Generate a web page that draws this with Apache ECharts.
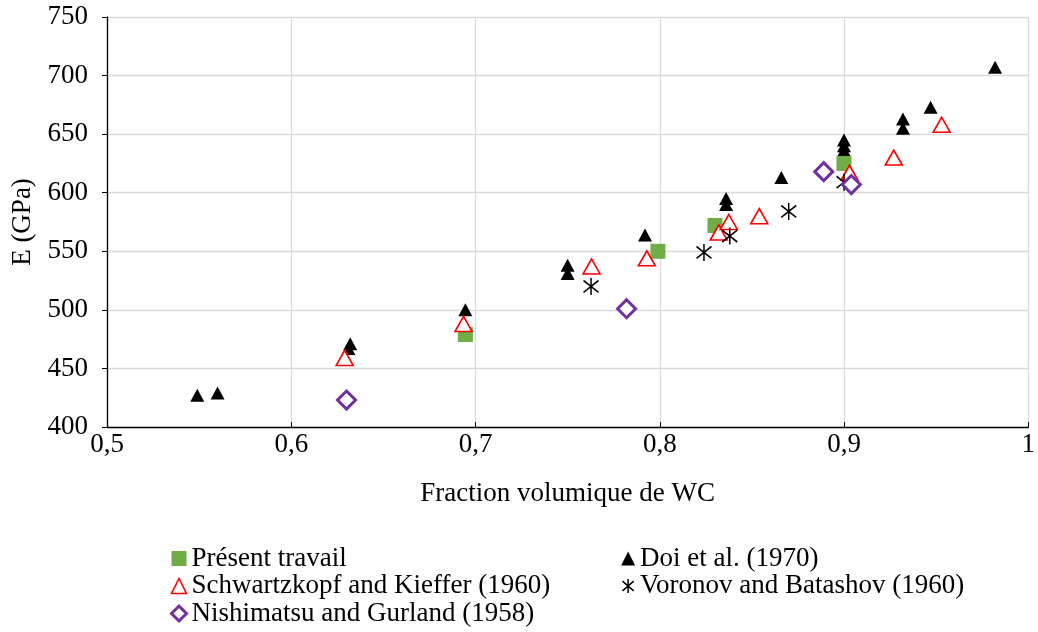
<!DOCTYPE html>
<html><head><meta charset="utf-8">
<script src="https://cdn.jsdelivr.net/npm/echarts@6/dist/echarts.min.js"></script>
<style>html,body{margin:0;padding:0;background:#fff}#c{width:1038px;height:632px}</style>
</head><body><div id="c"></div>
<script>
var xTicks = [0.5, 0.6, 0.7, 0.8, 0.9, 1.0];
var yTicks = [400, 450, 500, 550, 600, 650, 700, 750];
var present = [[0.6945, 479], [0.799, 550], [0.830, 572], [0.900, 625]];
var doi = [[0.549, 427], [0.560, 429], [0.631, 467], [0.632, 471], [0.6945, 500],
  [0.750, 531], [0.750, 538], [0.792, 564], [0.836, 590], [0.836, 595], [0.866, 613],
  [0.900, 632], [0.900, 636], [0.900, 640], [0.900, 645], [0.932, 655], [0.932, 663],
  [0.947, 673], [0.982, 707]];
var schwartz = [[0.629, 459], [0.6935, 488], [0.763, 537], [0.793, 544], [0.832, 566],
  [0.8375, 575], [0.854, 580], [0.903, 617], [0.927, 630], [0.953, 658]];
var voronov = [[0.7627, 520], [0.824, 549], [0.838, 563], [0.870, 584], [0.900, 609]];
var nishi = [[0.630, 423], [0.782, 501], [0.889, 618], [0.904, 607]];

var names = ['Présent travail', 'Doi et al. (1970)', 'Schwartzkopf and Kieffer (1960)',
  'Voronov and Batashov (1960)', 'Nishimatsu and Gurland (1958)'];
var font = '"Liberation Serif", "Times New Roman", "DejaVu Serif", serif';
var asterisk = 'path://M10,0L10,20M2,3L18,17M2,17L18,3';

var chart = echarts.init(document.getElementById('c'));
chart.setOption({
  animation: false,
  grid: {left: 107, right: 5, top: 17, bottom: 205},
  xAxis: {
    type: 'value', min: 0.5, max: 1.0, interval: 0.1,
    name: 'Fraction volumique de WC', nameLocation: 'middle', nameGap: 53,
    nameTextStyle: {fontFamily: font, fontSize: 27, color: '#000'},
    axisLine: {lineStyle: {color: '#000', width: 1.3}},
    axisTick: {show: true, inside: true, length: 5, lineStyle: {color: '#000'}},
    axisLabel: {fontFamily: font, fontSize: 27, color: '#000', margin: 4,
      formatter: function (v) { return (Math.round(v * 10) / 10).toString().replace('.', ','); }},
    splitLine: {show: true, lineStyle: {color: '#d9d9d9', width: 1.3}}
  },
  yAxis: {
    type: 'value', min: 400, max: 750, interval: 50,
    name: 'E (GPa)', nameLocation: 'middle', nameGap: 69, nameRotate: 90,
    nameTextStyle: {fontFamily: font, fontSize: 27, color: '#000'},
    axisLine: {show: true, lineStyle: {color: '#000', width: 1.3}},
    axisTick: {show: true, inside: false, length: 5, lineStyle: {color: '#000'}},
    axisLabel: {fontFamily: font, fontSize: 27, color: '#000', margin: 19},
    splitLine: {show: true, lineStyle: {color: '#d9d9d9', width: 1.3}}
  },
  legend: [
    {data: [names[0],
            {name: names[2], itemStyle: {borderWidth: 1.6}},
            {name: names[4], itemStyle: {borderWidth: 3}}],
      orient: 'vertical', left: 170, top: 545,
      height: 100, padding: 0,
      itemWidth: 15, itemHeight: 15, itemGap: 0.5,
      textStyle: {fontFamily: font, fontSize: 27, color: '#000', lineHeight: 27}},
    {data: [names[1], {name: names[3], itemStyle: {borderWidth: 1.5}}],
      orient: 'vertical', left: 620, top: 545,
      height: 100, padding: 0,
      itemWidth: 14, itemHeight: 14, itemGap: 0.5,
      textStyle: {fontFamily: font, fontSize: 27, color: '#000', lineHeight: 27}}
  ],
  series: [
    {name: names[1], type: 'scatter', data: doi, symbol: 'triangle', symbolSize: [14, 13],
      itemStyle: {color: '#000', opacity: 1}},
    {name: names[0], type: 'scatter', data: present, symbol: 'rect', symbolSize: 15,
      itemStyle: {color: '#70AD47', opacity: 1}},
    {name: names[2], type: 'scatter', data: schwartz, symbol: 'triangle', symbolSize: [17, 15],
      itemStyle: {color: '#fff', borderColor: '#FF0000', borderWidth: 1.6, opacity: 1}},
    {name: names[3], type: 'scatter', data: voronov, symbol: asterisk, symbolSize: [15, 17],
      itemStyle: {color: 'none', borderColor: '#000', borderWidth: 1.6, opacity: 1}},
    {name: names[4], type: 'scatter', data: nishi, symbol: 'diamond', symbolSize: 18,
      itemStyle: {color: '#fff', borderColor: '#7030A0', borderWidth: 3, opacity: 1}}
  ]
});
</script></body></html>
